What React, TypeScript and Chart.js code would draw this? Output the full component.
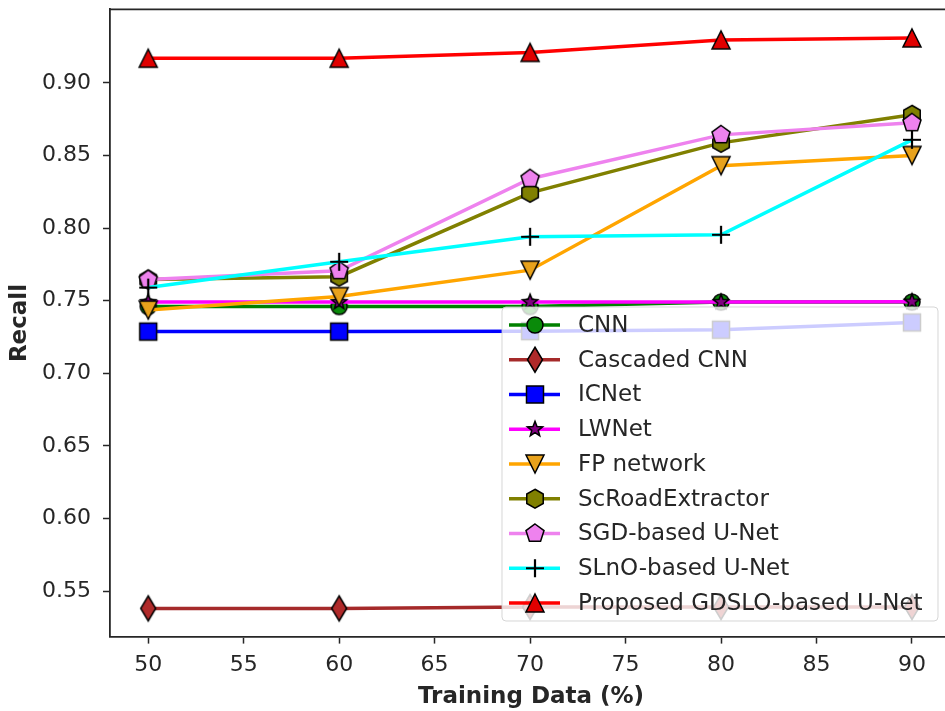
import React, { useEffect, useRef } from "react";
import { Chart, registerables } from "chart.js";

Chart.register(...registerables);

// ---------------- data ----------------
const trainingData = [50, 60, 70, 80, 90];
const xTickValues = [50, 55, 60, 65, 70, 75, 80, 85, 90];
const yTickValues = [0.55, 0.6, 0.65, 0.7, 0.75, 0.8, 0.85, 0.9];

const seriesNames = [
  "CNN",
  "Cascaded CNN",
  "ICNet",
  "LWNet",
  "FP network",
  "ScRoadExtractor",
  "SGD-based U-Net",
  "SLnO-based U-Net",
  "Proposed GDSLO-based U-Net",
];

const cnn = [0.746, 0.746, 0.746, 0.749, 0.749];
const cascadedCnn = [0.538, 0.538, 0.539, 0.539, 0.539];
const icnet = [0.7287, 0.7287, 0.729, 0.730, 0.735];
const lwnet = [0.749, 0.749, 0.749, 0.749, 0.7493];
const fpNetwork = [0.7435, 0.7528, 0.771, 0.843, 0.850];
const scRoadExtractor = [0.7645, 0.7665, 0.8243, 0.8587, 0.878];
const sgdUnet = [0.7645, 0.7706, 0.834, 0.8642, 0.8725];
const slnoUnet = [0.759, 0.7768, 0.794, 0.7954, 0.8608];
const proposed = [0.917, 0.917, 0.921, 0.9296, 0.931];

const seriesValues = [cnn, cascadedCnn, icnet, lwnet, fpNetwork, scRoadExtractor, sgdUnet, slnoUnet, proposed];

const lineColors = ["#008000", "#a52a2a", "#0000ff", "#ff00ff", "#ffa500", "#808000", "#ee82ee", "#00ffff", "#ff0000"];
const faceColors = ["#0a8a0a", "#b02a2a", "#0000ff", "#800080", "#e8a21c", "#808000", "#ee82ee", "#000000", "#e00000"];
const markerKinds = ["circle", "thinDiamond", "square", "star", "triangleDown", "hexagon", "pentagon", "plus", "triangleUp"];

// ---------------- markers ----------------
function polygon(ctx: CanvasRenderingContext2D, pts: number[][]) {
  ctx.beginPath();
  pts.forEach((p, i) => (i === 0 ? ctx.moveTo(p[0], p[1]) : ctx.lineTo(p[0], p[1])));
  ctx.closePath();
}

function regular(n: number, r: number, rot: number) {
  const pts: number[][] = [];
  for (let i = 0; i < n; i++) {
    const a = rot + (i * 2 * Math.PI) / n;
    pts.push([r * Math.cos(a), r * Math.sin(a)]);
  }
  return pts;
}

function drawMarker(ctx: CanvasRenderingContext2D, kind: string, x: number, y: number, face: string) {
  ctx.save();
  ctx.translate(x, y);
  ctx.lineWidth = 1.5;
  ctx.strokeStyle = "#000";
  ctx.fillStyle = face;
  ctx.lineJoin = "miter";
  const up = -Math.PI / 2;
  switch (kind) {
    case "circle":
      ctx.beginPath();
      ctx.arc(0, 0, 8, 0, Math.PI * 2);
      break;
    case "thinDiamond":
      polygon(ctx, [[0, -12.5], [7.5, 0], [0, 12.5], [-7.5, 0]]);
      break;
    case "square":
      polygon(ctx, [[-8.5, -8.5], [8.5, -8.5], [8.5, 8.5], [-8.5, 8.5]]);
      break;
    case "star": {
      const pts: number[][] = [];
      for (let i = 0; i < 10; i++) {
        const r = i % 2 === 0 ? 8 : 3.4;
        const a = up + (i * Math.PI) / 5;
        pts.push([r * Math.cos(a), r * Math.sin(a)]);
      }
      polygon(ctx, pts);
      break;
    }
    case "triangleDown":
      polygon(ctx, [[0, 9], [-9, -9], [9, -9]]);
      break;
    case "triangleUp":
      polygon(ctx, [[0, -9], [9, 9], [-9, 9]]);
      break;
    case "hexagon":
      polygon(ctx, regular(6, 9.5, up));
      break;
    case "pentagon":
      polygon(ctx, regular(5, 9.5, up));
      break;
    case "plus":
      ctx.beginPath();
      ctx.lineWidth = 2.2;
      ctx.moveTo(-9, 0);
      ctx.lineTo(9, 0);
      ctx.moveTo(0, -9);
      ctx.lineTo(0, 9);
      ctx.stroke();
      ctx.restore();
      return;
  }
  ctx.fill();
  ctx.stroke();
  ctx.restore();
}

function makeMarkerImage(kind: string, face: string) {
  const c = document.createElement("canvas");
  c.width = 32;
  c.height = 32;
  const ctx = c.getContext("2d")!;
  drawMarker(ctx, kind, 16, 16, face);
  return c;
}

// ---------------- component ----------------
export default function App() {
  const canvasRef = useRef<HTMLCanvasElement | null>(null);

  useEffect(() => {
    document.body.style.margin = "0";
    const canvas = canvasRef.current;
    if (!canvas) return;

    const axisColor = "#262626";
    const textColor = "#262626";

    const decor = {
      id: "decor",
      afterDraw(chart: any) {
        const ctx: CanvasRenderingContext2D = chart.ctx;
        const area = chart.chartArea;
        ctx.save();
        // top spine
        ctx.strokeStyle = axisColor;
        ctx.lineWidth = 1.8;
        ctx.beginPath();
        ctx.moveTo(area.left - 0.9, area.top);
        ctx.lineTo(area.right, area.top);
        ctx.stroke();

        // axis titles
        ctx.fillStyle = textColor;
        ctx.font = "bold 23px 'DejaVu Sans'";
        ctx.textAlign = "center";
        ctx.textBaseline = "middle";
        ctx.fillText("Training Data (%)", 531, 697);
        ctx.save();
        ctx.translate(20, 323);
        ctx.rotate(-Math.PI / 2);
        ctx.fillText("Recall", 0, 0);
        ctx.restore();

        // legend
        const lx = 502, ly = 307, lw = 436, lh = 314;
        ctx.beginPath();
        ctx.roundRect(lx, ly, lw, lh, 4);
        ctx.fillStyle = "rgba(255,255,255,0.8)";
        ctx.fill();
        ctx.strokeStyle = "rgba(204,204,204,0.8)";
        ctx.lineWidth = 1;
        ctx.stroke();

        ctx.font = "23px 'DejaVu Sans'";
        ctx.textAlign = "left";
        ctx.textBaseline = "middle";
        seriesNames.forEach((name, i) => {
          const y = 325 + i * 34.75;
          ctx.strokeStyle = lineColors[i];
          ctx.lineWidth = 3.5;
          ctx.beginPath();
          ctx.moveTo(509, y);
          ctx.lineTo(560, y);
          ctx.stroke();
          drawMarker(ctx, markerKinds[i], 535, y, faceColors[i]);
          ctx.fillStyle = textColor;
          ctx.fillText(name, 578, y + 1);
        });
        ctx.restore();
      },
    };

    const datasets = seriesNames.map((name, i) => ({
      label: name,
      data: trainingData.map((x, j) => ({ x, y: seriesValues[i][j] })),
      borderColor: lineColors[i],
      backgroundColor: lineColors[i],
      borderWidth: 3.5,
      pointStyle: makeMarkerImage(markerKinds[i], faceColors[i]) as any,
      pointRadius: 9,
      pointHoverRadius: 9,
      tension: 0,
      fill: false,
      clip: 12,
      order: seriesNames.length - i,
    }));

    const zeroPad = (scale: any) => {
      scale.paddingTop = 0;
      scale.paddingBottom = 0;
      scale.paddingLeft = 0;
      scale.paddingRight = 0;
    };

    const chart = new Chart(canvas, {
      type: "line",
      data: { datasets },
      plugins: [decor],
      options: {
        animation: false,
        responsive: false,
        devicePixelRatio: 1,
        layout: { autoPadding: false, padding: { top: 9.3, right: 0, left: 0, bottom: 0 } },
        plugins: {
          legend: { display: false },
          tooltip: { enabled: false },
          title: { display: false },
        },
        scales: {
          x: {
            type: "linear",
            min: 48,
            max: 91.73,
            afterBuildTicks: (scale: any) => {
              scale.ticks = xTickValues.map((v) => ({ value: v }));
            },
            afterFit: (scale: any) => {
              scale.height = 74.4;
              zeroPad(scale);
            },
            grid: {
              drawOnChartArea: false,
              drawTicks: true,
              tickLength: 7,
              tickWidth: 1.5,
              tickColor: axisColor,
            },
            border: { display: true, color: axisColor, width: 1.8 },
            ticks: {
              color: textColor,
              font: { family: "'DejaVu Sans'", size: 22 },
              padding: 8,
              maxRotation: 0,
              autoSkip: false,
              callback: (v: any) => String(v),
            },
          },
          y: {
            type: "linear",
            min: 0.5186,
            max: 0.9507,
            afterBuildTicks: (scale: any) => {
              scale.ticks = yTickValues.map((v) => ({ value: v }));
            },
            afterFit: (scale: any) => {
              scale.width = 110;
              zeroPad(scale);
            },
            grid: {
              drawOnChartArea: false,
              drawTicks: true,
              tickLength: 7,
              tickWidth: 1.5,
              tickColor: axisColor,
            },
            border: { display: true, color: axisColor, width: 1.8 },
            ticks: {
              color: textColor,
              font: { family: "'DejaVu Sans'", size: 22 },
              padding: 12,
              autoSkip: false,
              callback: (v: any) => Number(v).toFixed(2),
            },
          },
        },
      },
    });

    return () => chart.destroy();
  }, []);

  return (
    <div style={{ width: 945, height: 711, background: "#fff" }}>
      <canvas ref={canvasRef} width={945} height={711} />
    </div>
  );
}
